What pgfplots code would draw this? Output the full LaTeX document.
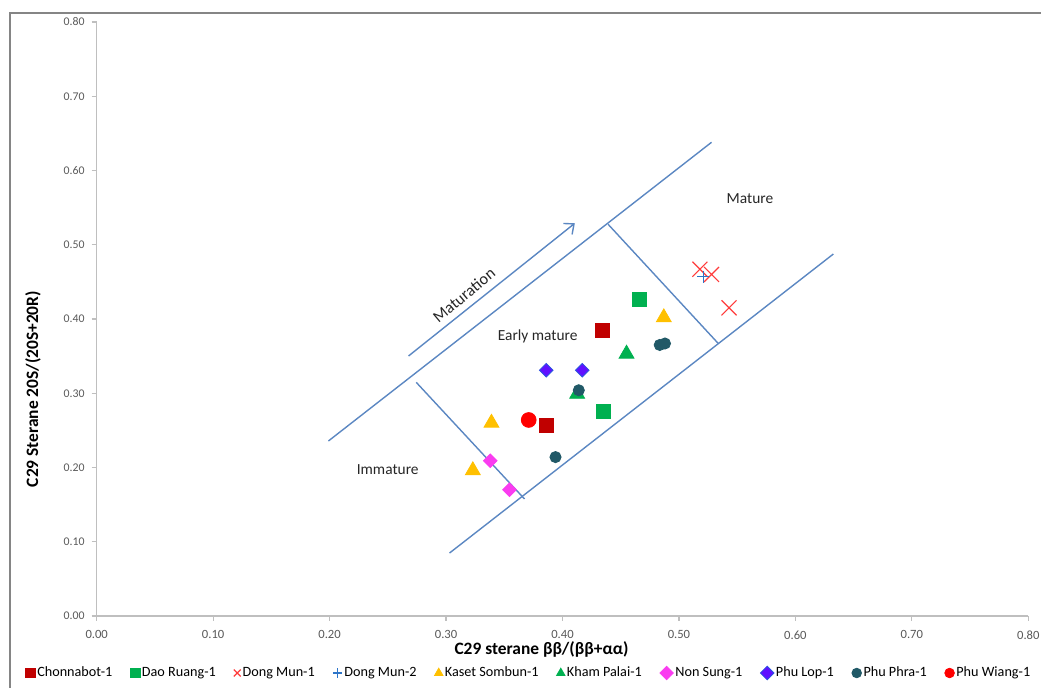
\documentclass[border=0pt]{standalone}
\usepackage{fontspec}
\setmainfont{Carlito}
\usepackage{pgfplots}
\pgfplotsset{compat=1.18}
\usetikzlibrary{arrows.meta}

\definecolor{chonna}{HTML}{C00000}
\definecolor{daoruang}{HTML}{00B050}
\definecolor{dongmuna}{HTML}{FF3B3B}
\definecolor{dongmunb}{HTML}{2E75C8}
\definecolor{kaset}{HTML}{FFC000}
\definecolor{khampalai}{HTML}{00B050}
\definecolor{nonsung}{HTML}{FA3CF0}
\definecolor{phulop}{HTML}{6010FF}
\definecolor{phulopedge}{HTML}{2B55E0}
\definecolor{phuphra}{HTML}{215967}
\definecolor{phuwiang}{HTML}{FF0000}
\definecolor{zoneline}{HTML}{5B87C2}
\definecolor{axisgray}{HTML}{BFBFBF}
\definecolor{ticktext}{HTML}{595959}
\definecolor{framegray}{HTML}{858585}

\begin{document}
\begin{tikzpicture}[x=1pt,y=1pt]
\useasboundingbox (-48.35,-36) rectangle (472.15,308);
% chart frame
\draw[framegray, line width=1pt] (-43.35,-36) -- (-43.35,301.25) -- (472.15,301.25);
\begin{axis}[
  at={(0,0)}, anchor=south west,
  scale only axis,
  width=465.8pt, height=297pt,
  xmin=0, xmax=0.8, ymin=0, ymax=0.8,
  xtick={0,0.1,...,0.8}, ytick={0,0.1,...,0.8},
  separate axis lines,
  axis x line*=bottom, axis y line*=left,
  axis line style={draw=axisgray, line width=0.6pt, -},
  tick align=outside, major tick length=2.5pt,
  tick style={axisgray, line width=0.6pt},
  /pgf/number format/.cd, fixed, fixed zerofill, precision=2, assume math mode=true,
  /pgfplots/.cd,
  xticklabel style={font=\fontsize{6.3}{7}\selectfont, text=ticktext, yshift=-1.3pt},
  yticklabel style={font=\fontsize{5.9}{7}\selectfont, text=ticktext},
  xlabel={C29 sterane ββ/(ββ+αα)},
  ylabel={C29 Sterane 20S/(20S+20R)},
  xlabel style={font=\fontsize{8.7}{10}\selectfont\bfseries, at={(axis description cs:0.4775,-0.0555)}, anchor=center},
  ylabel style={font=\fontsize{8.7}{10}\selectfont\bfseries, at={(axis description cs:-0.0684,0.382)}, anchor=center, rotate=0},
  legend columns=10,
  legend style={draw=none, fill=none, at={(0.464,-0.096)}, anchor=center,
    font=\fontsize{7.1}{8}\selectfont, inner sep=0pt,
    /tikz/every even column/.append style={column sep=8pt},
    nodes={inner sep=1pt}},
  legend cell align=left,
  legend image code/.code={\draw[mark repeat=2, mark phase=2, mark size=2.4pt] plot coordinates {(0pt,0pt) (2.5pt,0pt) (5pt,0pt)};},
  clip=false,
]
% zone boundaries
\addplot[zoneline, line width=0.7pt, forget plot] coordinates {(0.199,0.2357) (0.528,0.638)};
\addplot[zoneline, line width=0.7pt, forget plot] coordinates {(0.303,0.0848) (0.6326,0.4875)};
\addplot[zoneline, line width=0.7pt, forget plot] coordinates {(0.2744,0.3147) (0.3674,0.1576)};
\addplot[zoneline, line width=0.7pt, forget plot] coordinates {(0.4392,0.5275) (0.5336,0.3673)};
% maturation trend arrow
\addplot[zoneline, line width=0.7pt, -{Straight Barb[length=4pt,width=7pt]}, forget plot] coordinates {(0.2678,0.3502) (0.4106,0.5289)};

\node[font=\fontsize{8.2}{9}\selectfont, text=black!85, rotate=40] at (axis cs:0.3154,0.4323) {Maturation};
\node[font=\fontsize{7.7}{9}\selectfont, text=black!85] at (axis cs:0.3787,0.3762) {Early mature};
\node[font=\fontsize{7.7}{9}\selectfont, text=black!85] at (axis cs:0.2499,0.1966) {Immature};
\node[font=\fontsize{7.7}{9}\selectfont, text=black!85] at (axis cs:0.561,0.5616) {Mature};

\addplot[only marks, mark=square*, mark size=3.5pt, mark options={draw=chonna, fill=chonna}]
  coordinates {(0.434,0.384) (0.386,0.257)};
\addlegendentry{Chonnabot-1}
\addplot[only marks, mark=square*, mark size=3.5pt, mark options={draw=daoruang, fill=daoruang}]
  coordinates {(0.466,0.426) (0.4355,0.275)};
\addlegendentry{Dao Ruang-1}
\addplot[only marks, mark=x, mark size=5.3pt, mark options={draw=dongmuna, line width=0.6pt}]
  coordinates {(0.518,0.467) (0.528,0.460) (0.543,0.415)};
\addlegendentry{Dong Mun-1}
\addplot[only marks, mark=+, mark size=3pt, mark options={draw=dongmunb, line width=0.6pt}]
  coordinates {(0.521,0.457)};
\addlegendentry{Dong Mun-2}
\addplot[only marks, mark=triangle*, mark size=4.3pt, mark options={draw=kaset, fill=kaset}]
  coordinates {(0.339,0.260) (0.323,0.196) (0.487,0.402)};
\addlegendentry{Kaset Sombun-1}
\addplot[only marks, mark=triangle*, mark size=4.3pt, mark options={draw=khampalai, fill=khampalai}]
  coordinates {(0.455,0.353) (0.4126,0.299)};
\addlegendentry{Kham Palai-1}
\addplot[only marks, mark=square*, mark size=2.4pt, mark options={draw=nonsung, fill=nonsung, rotate=45}]
  coordinates {(0.338,0.209) (0.3545,0.170)};
\addlegendentry{Non Sung-1}
\addplot[only marks, mark=square*, mark size=2.4pt, mark options={draw=phulopedge, fill=phulop, rotate=45}]
  coordinates {(0.386,0.331) (0.417,0.331)};
\addlegendentry{Phu Lop-1}
\addplot[only marks, mark=*, mark size=2.8pt, mark options={draw=phuphra, fill=phuphra}]
  coordinates {(0.414,0.304) (0.394,0.214) (0.4835,0.365) (0.488,0.367)};
\addlegendentry{Phu Phra-1}
\addplot[only marks, mark=*, mark size=3.7pt, mark options={draw=phuwiang, fill=phuwiang}]
  coordinates {(0.371,0.264)};
\addlegendentry{Phu Wiang-1}
\end{axis}
\end{tikzpicture}
\end{document}
